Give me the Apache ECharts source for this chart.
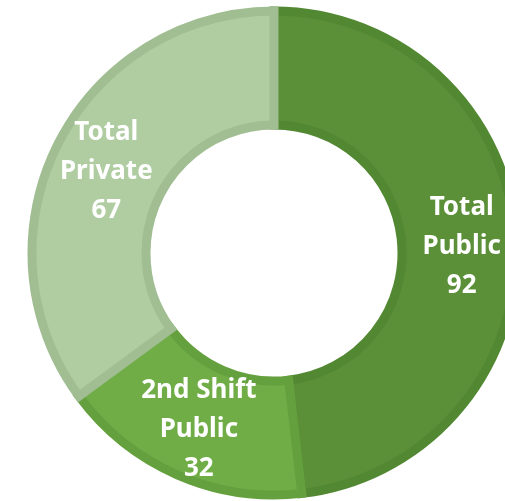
<!DOCTYPE html>
<html>
<head>
<meta charset="utf-8">
<script src="https://cdn.jsdelivr.net/npm/echarts@6/dist/echarts.min.js"></script>
<style>
  html, body { margin: 0; padding: 0; background: #fff; }
  #chart { width: 505px; height: 501px; }
</style>
</head>
<body>
<div id="chart"></div>
<script>
// 数据
var names = ["Total\nPublic", "2nd Shift\nPublic", "Total\nPrivate"];
var values = [92, 32, 67];
var fills = ["#5B8F38", "#70AD47", "#B0CDA2"];
var borders = ["#538833", "#65A03E", "#A0BE92"];

(function () {
    var myChart = echarts.init(document.getElementById("chart"));

    var data = names.map(function (n, i) {
        return {
            name: n,
            value: values[i],
            itemStyle: { color: fills[i], borderColor: borders[i] }
        };
    });

    var option = {
        animation: false,
        series: [
            {
                type: "pie",
                center: [274, 253],
                radius: [128, 242],
                startAngle: 90,
                clockwise: true,
                itemStyle: {
                    borderWidth: 9,
                    borderJoin: "miter"
                },
                label: {
                    show: true,
                    position: "inside",
                    color: "#fff",
                    fontFamily: "Noto Sans",
                    fontWeight: "bold",
                    fontSize: 26,
                    lineHeight: 39,
                    align: "center",
                    // 名称 + 数值
                    formatter: "{b}\n{c}"
                },
                // 文字往下挪一点
                labelLayout: { dy: 4 },
                labelLine: { show: false },
                emphasis: { disabled: true },
                data: data
            }
        ]
    };

    myChart.setOption(option);
})();
</script>
</body>
</html>
